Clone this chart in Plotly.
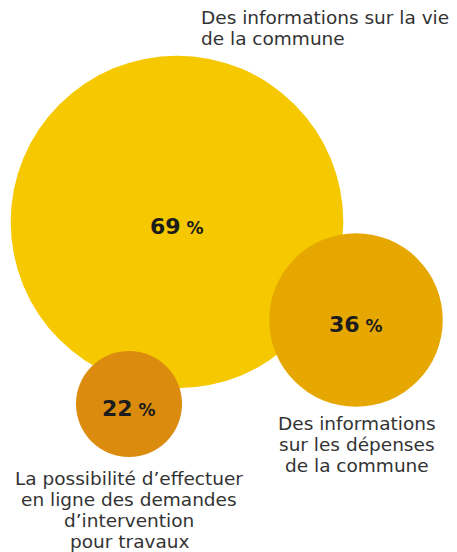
import plotly.graph_objects as go

# Data
categories = [
    "Des informations sur la vie<br>de la commune",
    "Des informations<br>sur les dépenses<br>de la commune",
    "La possibilité d’effectuer<br>en ligne des demandes<br>d’intervention<br>pour travaux",
]
values = [69, 36, 22]

# Layout (positions in pixel-like data units) and styles
centers_x = [177, 356, 129]
centers_y = [222, 320, 404]
colors = ["#F5C800", "#E6A800", "#DB8C0E"]
px_per_pct = 4.82  # bubble diameter per percentage point

label_pos = [
    dict(x=199, y=17, xanchor="left"),
    dict(x=357, y=423, xanchor="center"),
    dict(x=129, y=478, xanchor="center"),
]
line_step = 21
FONT = "DejaVu Sans"

W, H = 457, 552
fig = go.Figure()

order = [0, 2, 1]
for i in order:
    fig.add_trace(go.Scatter(
        x=[centers_x[i]], y=[centers_y[i]],
        mode="markers",
        marker=dict(size=[values[i] * px_per_pct], sizemode="diameter",
                    color=colors[i], line=dict(width=0), opacity=1),
        hoverinfo="skip", showlegend=False, cliponaxis=False,
    ))
    fig.add_annotation(
        text=f"<b>{values[i]}</b><span style='font-size:17px'><b> %</b></span>",
        x=centers_x[i], y=centers_y[i] + 4, xref="x", yref="y",
        xanchor="center", yanchor="middle", showarrow=False,
        font=dict(family=FONT, size=22, color="#1c1c1c"),
    )

for cat, pos in zip(categories, label_pos):
    for k, line in enumerate(cat.split("<br>")):
        fig.add_annotation(
            text=line, x=pos["x"], y=pos["y"] + k * line_step,
            xref="x", yref="y",
            xanchor=pos["xanchor"], yanchor="middle",
            showarrow=False,
            font=dict(family=FONT, size=18.5, color="#333333"),
        )

fig.update_layout(
    width=W, height=H,
    margin=dict(l=0, r=0, t=0, b=0),
    paper_bgcolor="white", plot_bgcolor="white",
    xaxis=dict(range=[0, W], visible=False, fixedrange=True),
    yaxis=dict(range=[H, 0], visible=False, fixedrange=True),
)

fig.write_html("out.html")
